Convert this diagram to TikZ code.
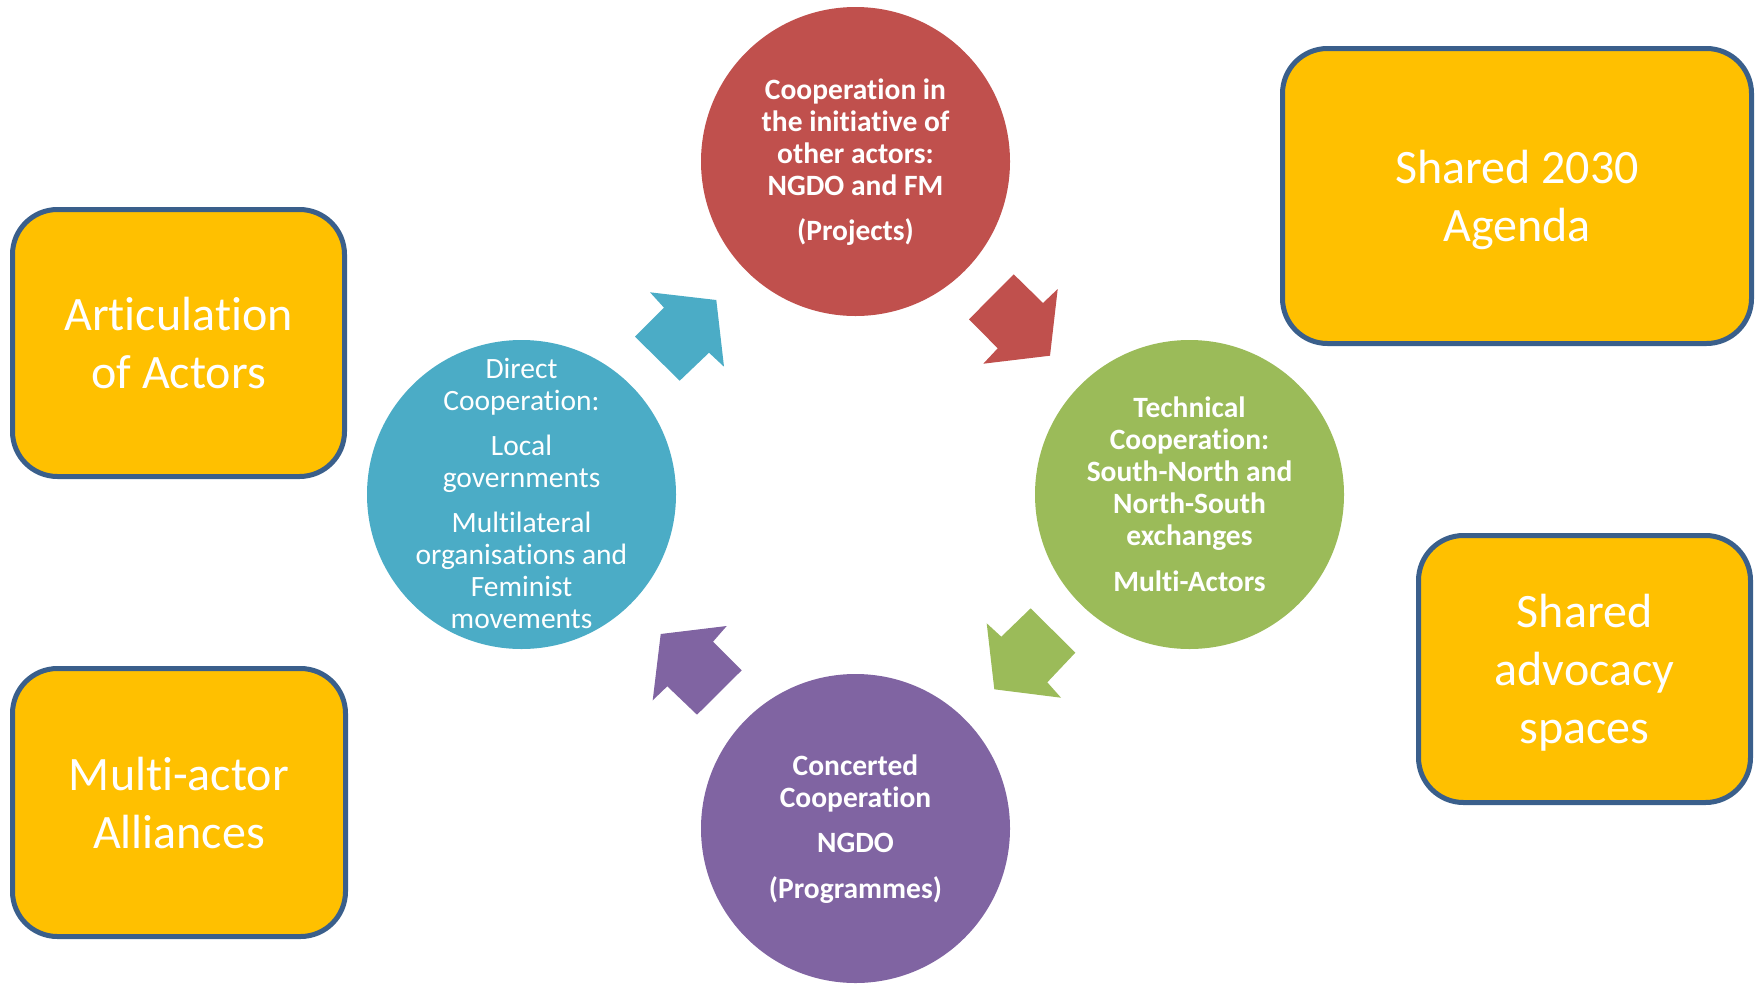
\documentclass[tikz,border=0pt]{standalone}
\usepackage{fontspec}
\setmainfont{Carlito}[Ligatures=NoCommon]
\definecolor{cred}{HTML}{C0504D}
\definecolor{cblue}{HTML}{4BACC6}
\definecolor{cgreen}{HTML}{9BBB59}
\definecolor{cpurple}{HTML}{8064A2}
\definecolor{boxfill}{HTML}{FFC000}
\definecolor{boxline}{HTML}{3A5F8B}
\newcommand{\nodepth}[1]{\raisebox{0pt}[\height][0pt]{#1}}
\tikzset{
  circ/.style={circle, minimum size=309, inner sep=0},
  circtext/.style={text=white, align=center, inner sep=0,
    font=\fontsize{29.5}{32}\selectfont},
  bigbox/.style={rectangle, rounded corners=45, draw=boxline, line width=5,
    fill=boxfill, text=white, align=center, inner sep=0,
    font=\fontsize{48}{58}\selectfont},
  blockarrow/.style={draw=none}
}
\begin{document}
\begin{tikzpicture}[x=1pt, y=-1pt]
\useasboundingbox (0,0) rectangle (1760,983);

% circles
\node[circ, fill=cred] (red) at (855.5,161.5) {};
\node[circtext, font=\fontsize{29.5}{32}\selectfont\bfseries] (redtext) at ([yshift=-1]red.center)
  {Cooperation in\\the initiative of\\other actors:\\NGDO and FM\\[13pt](Projects)};
\node[circ, fill=cblue] (blue) at (521.5,494.5) {};
\node[circtext] (bluetext) at ([yshift=1]blue.center)
  {Direct\\Cooperation:\\[13pt]Local\\governments\\[13pt]Multilateral\\organisations and\\Feminist\\movements};
\node[circ, fill=cgreen] (green) at (1189.5,494.5) {};
\node[circtext, font=\fontsize{29.5}{32}\selectfont\bfseries] (greentext) at (green.center)
  {Technical\\Cooperation:\\South-North and\\North-South\\exchanges\\[14pt]Multi-Actors};
\node[circ, fill=cpurple] (purple) at (855.5,828.5) {};
\node[circtext, font=\fontsize{29.5}{32}\selectfont\bfseries] (purpletext) at ([yshift=-1]purple.center)
  {Concerted\\Cooperation\\[13pt]NGDO\\[14pt](Programmes)};

% block arrows
\fill[cblue, blockarrow] (650,292.3) -- (716.3,300) -- (724,366.7) -- (709,352.7)
  -- (679.7,380.7) -- (635,336.7) -- (664,307.7) -- cycle;
\fill[cred, blockarrow] (1013.7,274.3) -- (1043,303) -- (1057.7,289) -- (1050,355.7)
  -- (983.3,363.7) -- (997.7,348.3) -- (969,319.3) -- cycle;
\fill[cgreen, blockarrow] (1030.7,608.3) -- (1075.3,652.7) -- (1047.3,682.3) -- (1061,697.7)
  -- (994.3,689.3) -- (986.7,623.3) -- (1001.3,636.7) -- cycle;
\fill[cpurple, blockarrow] (660.7,634) -- (726.7,626) -- (713,641.7) -- (741.7,670.3)
  -- (697,714.7) -- (667.3,686.3) -- (652.7,700.3) -- cycle;

% boxes
\node[bigbox, minimum width=332, minimum height=267] (artic) at (178.5,343)
  {Articulation\\of Actors};
\node[bigbox, minimum width=333, minimum height=268] (multi) at (179,802.5)
  {Multi-actor\\Alliances};
\node[bigbox, minimum width=469, minimum height=295] (agenda) at (1517,196)
  {Shared 2030\\\nodepth{Agenda}};
\node[bigbox, minimum width=332, minimum height=267] (advocacy) at (1584.5,669)
  {Shared\\advocacy\\\nodepth{spaces}};
\end{tikzpicture}
\end{document}
